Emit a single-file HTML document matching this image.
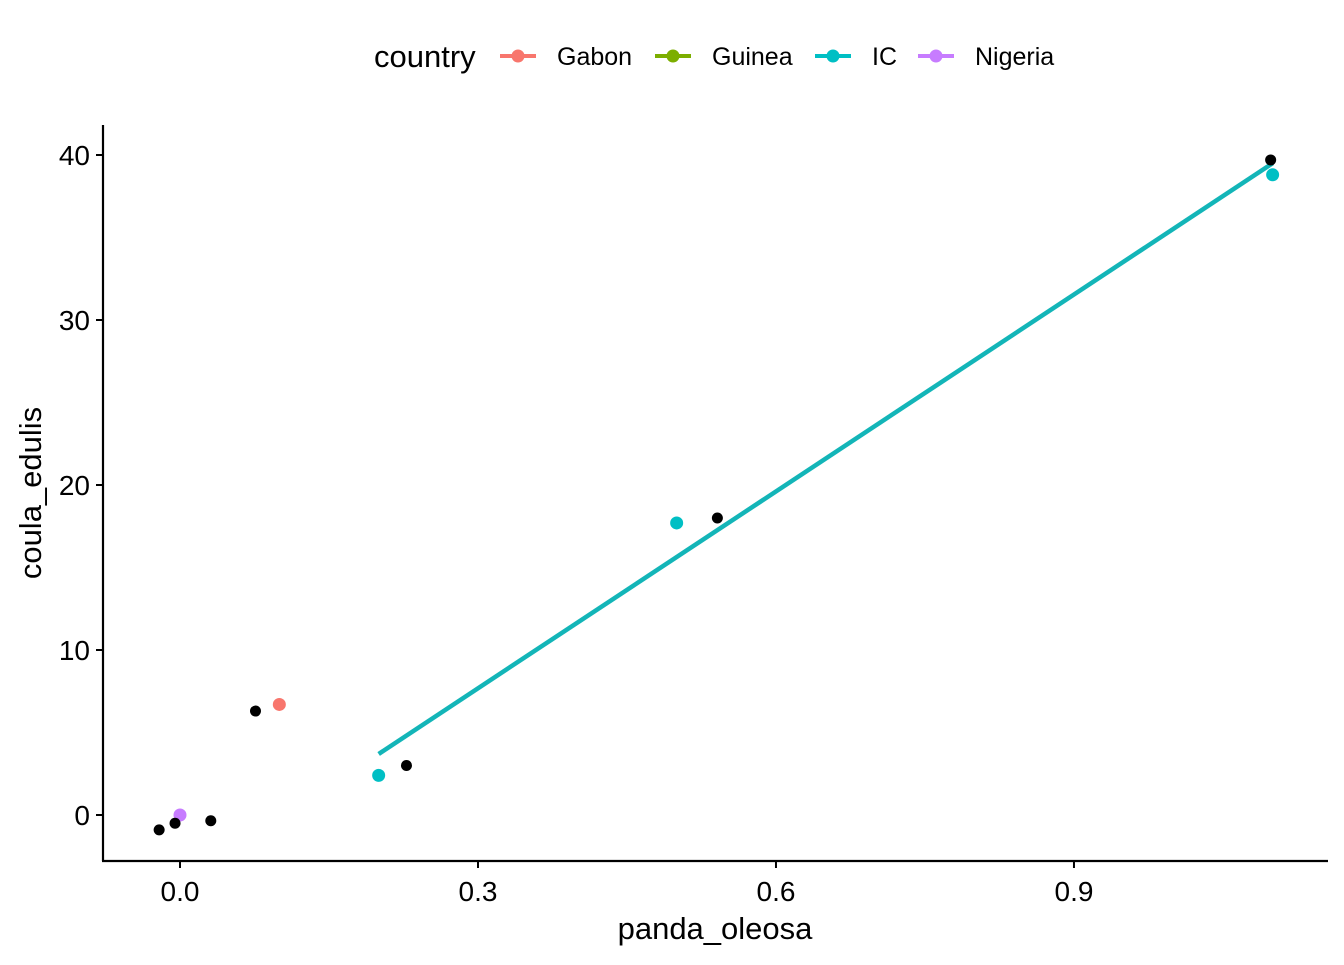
<!DOCTYPE html>
<html><head><meta charset="utf-8"><style>
body{margin:0;background:#fff;font-family:"Liberation Sans",Arial,sans-serif}
</style></head><body>
<svg id="chart" width="1344" height="960" xmlns="http://www.w3.org/2000/svg" font-family="Liberation Sans, Arial, sans-serif">
<g id="legend">
<text x="374" y="67" font-size="31">country</text>
</g>
<g id="axes"></g>
<g id="marks"></g>
</svg>
<script>
const xTicks=[0.0,0.3,0.6,0.9];
const xTickLabels=["0.0","0.3","0.6","0.9"];
const yTicks=[0,10,20,30,40];
const yTickLabels=["0","10","20","30","40"];
const countries=["Gabon","Guinea","IC","Nigeria"];
const countryColors=["#F8766D","#7CAE00","#00BFC4","#C77CFF"];
const blackX=[-0.021,-0.005,0.031,0.076,0.228,0.541,1.098];
const blackY=[-0.9,-0.5,-0.35,6.3,3.0,18.0,39.7];
const colX=[0.1,0.2,0.5,1.1,0.0];
const colY=[6.7,2.4,17.7,38.8,0.0];
const colCountry=["Gabon","IC","IC","IC","Nigeria"];
const fitX=[0.2,1.1];
const fitY=[3.7,39.5];

const NS="http://www.w3.org/2000/svg";
const sx=v=>180+v*993.3;
const sy=v=>815-v*16.5;
function mk(t,a,p){const e=document.createElementNS(NS,t);for(const k in a)e.setAttribute(k,a[k]);p.appendChild(e);return e;}
const axes=document.getElementById('axes'),marks=document.getElementById('marks'),legend=document.getElementById('legend');
let l=mk('line',{x1:103,y1:125,x2:103,y2:861,stroke:'#000','stroke-width':2.2},axes);


l=mk('line',{x1:102,y1:861,x2:1328,y2:861,stroke:'#000','stroke-width':2.2},axes);


xTicks.forEach((v,i)=>{
 mk('line',{x1:sx(v),y1:861,x2:sx(v),y2:868,stroke:'#000','stroke-width':2},axes);
 const t=mk('text',{x:sx(v),y:901,'font-size':28,'text-anchor':'middle'},axes);t.textContent=xTickLabels[i];
 
 
});
yTicks.forEach((v,i)=>{
 mk('line',{x1:96,y1:sy(v),x2:103,y2:sy(v),stroke:'#000','stroke-width':2},axes);
 const t=mk('text',{x:90,y:sy(v)+10,'font-size':28,'text-anchor':'end'},axes);t.textContent=yTickLabels[i];
 
 
});
let t=mk('text',{x:715,y:939,'font-size':31,'text-anchor':'middle'},axes);t.textContent='panda_oleosa';


t=mk('text',{x:0,y:0,'font-size':31,'text-anchor':'middle',transform:'translate(41,493) rotate(-90)'},axes);t.textContent='coula_edulis';


const fit=mk('line',{x1:sx(fitX[0]),y1:sy(fitY[0]),x2:sx(fitX[1]),y2:sy(fitY[1]),stroke:'#13B5B8','stroke-width':4.5},marks);


colX.forEach((v,i)=>{
 const c=mk('circle',{cx:sx(v),cy:sy(colY[i]),r:6.5,fill:countryColors[countries.indexOf(colCountry[i])]},marks);
 
 
});
blackX.forEach((v,i)=>{
 const c=mk('circle',{cx:sx(v),cy:sy(blackY[i]),r:5.5,fill:'#000'},marks);
 
 
});
const keyX=[500,655,815,918];
countries.forEach((n,i)=>{
 const g=mk('g',{},legend);
 
 
 mk('line',{x1:keyX[i],y1:56,x2:keyX[i]+36,y2:56,stroke:countryColors[i],'stroke-width':4},g);
 mk('circle',{cx:keyX[i]+18,cy:56,r:6.5,fill:countryColors[i]},g);
 const tt=mk('text',{x:keyX[i]+57,y:65,'font-size':25},g);tt.textContent=n;
});
</script>
</body></html>
